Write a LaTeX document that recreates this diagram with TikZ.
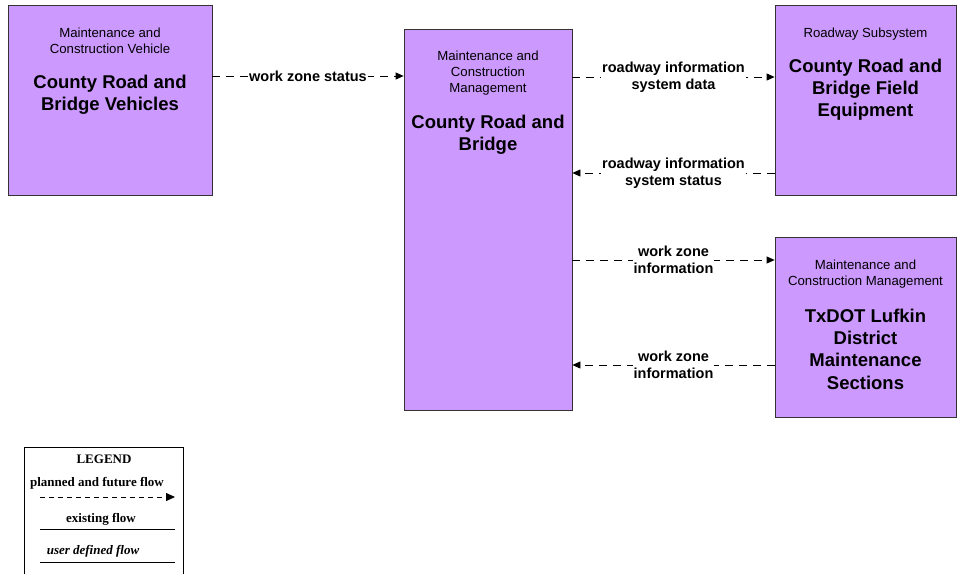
\documentclass[tikz,border=0pt]{standalone}
\usepackage{fontspec}
\setmainfont{Liberation Sans}
\newfontfamily\legendfont{Liberation Serif}
\usetikzlibrary{arrows.meta,positioning,calc}
\definecolor{boxpurple}{HTML}{CC99FF}

\begin{document}
\begin{tikzpicture}[x=1pt,y=-1pt,
  sysbox/.style={draw=black!80,fill=boxpurple,line width=0.8pt,inner sep=0pt},
  kindtext/.style={align=center,font=\fontsize{13.2}{16}\selectfont},
  nametext/.style={align=center,font=\fontsize{18.5}{22.3}\selectfont\bfseries},
  flow/.style={dash pattern=on 8pt off 6pt,line width=0.8pt,-{Triangle[length=8pt,width=7pt]}},
  flowlabel/.style={fill=white,align=center,inner sep=1pt,font=\fontsize{14.5}{17.5}\selectfont\bfseries},
  legendtext/.style={font=\legendfont\fontsize{13}{14}\selectfont\bfseries}]

\useasboundingbox (0,0) rectangle (957,573);
\clip (0,0) rectangle (957,573);

% Vehicles
\node[sysbox,minimum width=204pt,minimum height=190pt] (veh) at (110,100) {};
\node[kindtext] at ([yshift=-36.5pt]veh.north) {Maintenance and\\Construction Vehicle};
\node[nametext] at ([yshift=-90pt]veh.north) {County Road and\\Bridge Vehicles};

% County Road and Bridge
\node[sysbox,minimum width=168pt,minimum height=381pt] (crb) at (488,219.5) {};
\node[kindtext] at ([yshift=-44pt]crb.north) {Maintenance and\\Construction\\Management};
\node[nametext] at ([yshift=-106pt]crb.north) {County Road and\\Bridge};

% Field equipment
\node[sysbox,minimum width=181pt,minimum height=190pt] (fld) at (865.5,100) {};
\node[kindtext] at ([yshift=-29pt]fld.north) {Roadway Subsystem};
\node[nametext] at ([yshift=-85pt]fld.north) {County Road and\\Bridge Field\\Equipment};

% TxDOT sections
\node[sysbox,minimum width=181pt,minimum height=180pt] (txd) at (865.5,327) {};
\node[kindtext] at ([yshift=-37pt]txd.north) {Maintenance and\\Construction Management};
\node[nametext] at ([yshift=-112.5pt]txd.north) {TxDOT Lufkin\\District\\Maintenance\\Sections};

% Flow rows
\coordinate (r1) at (0,76);
\coordinate (r2) at (0,77);
\coordinate (r3) at (0,173);
\coordinate (r4) at (0,260);
\coordinate (r5) at (0,365);

% Flows
\draw[flow] (veh.east |- r1) -- node[flowlabel]{work zone status} (crb.west |- r1);
\draw[flow] (crb.east |- r2) -- node[flowlabel]{roadway information\\system data} (fld.west |- r2);
\draw[flow] (fld.west |- r3) -- node[flowlabel]{roadway information\\system status} (crb.east |- r3);
\draw[flow] (crb.east |- r4) -- node[flowlabel]{work zone\\information} (txd.west |- r4);
\draw[flow] (txd.west |- r5) -- node[flowlabel]{work zone\\information} (crb.east |- r5);

% Legend
\node[draw,line width=0.8pt,minimum width=159pt,minimum height=140pt] (legend) at (103.5,517) {};
\node[legendtext] at (104,459) {LEGEND};
\node[legendtext] at (97,483) {planned and future flow};
\coordinate (la) at (40,497);
\coordinate (lb) at (175,497);
\draw[dash pattern=on 5pt off 4pt,line width=0.8pt,-{Triangle[length=9pt,width=8pt]}] (la) -- (lb);
\node[legendtext] at (101,519) {existing flow};
\coordinate (lc) at (40,529);
\coordinate (ld) at (175,529);
\draw[line width=0.8pt] (lc) -- (ld);
\node[legendtext,font=\legendfont\fontsize{13}{14}\selectfont\bfseries\itshape] at (93,551) {user defined flow};
\coordinate (le) at (40,562);
\coordinate (lf) at (175,562);
\draw[line width=0.8pt] (le) -- (lf);

\end{tikzpicture}
\end{document}
